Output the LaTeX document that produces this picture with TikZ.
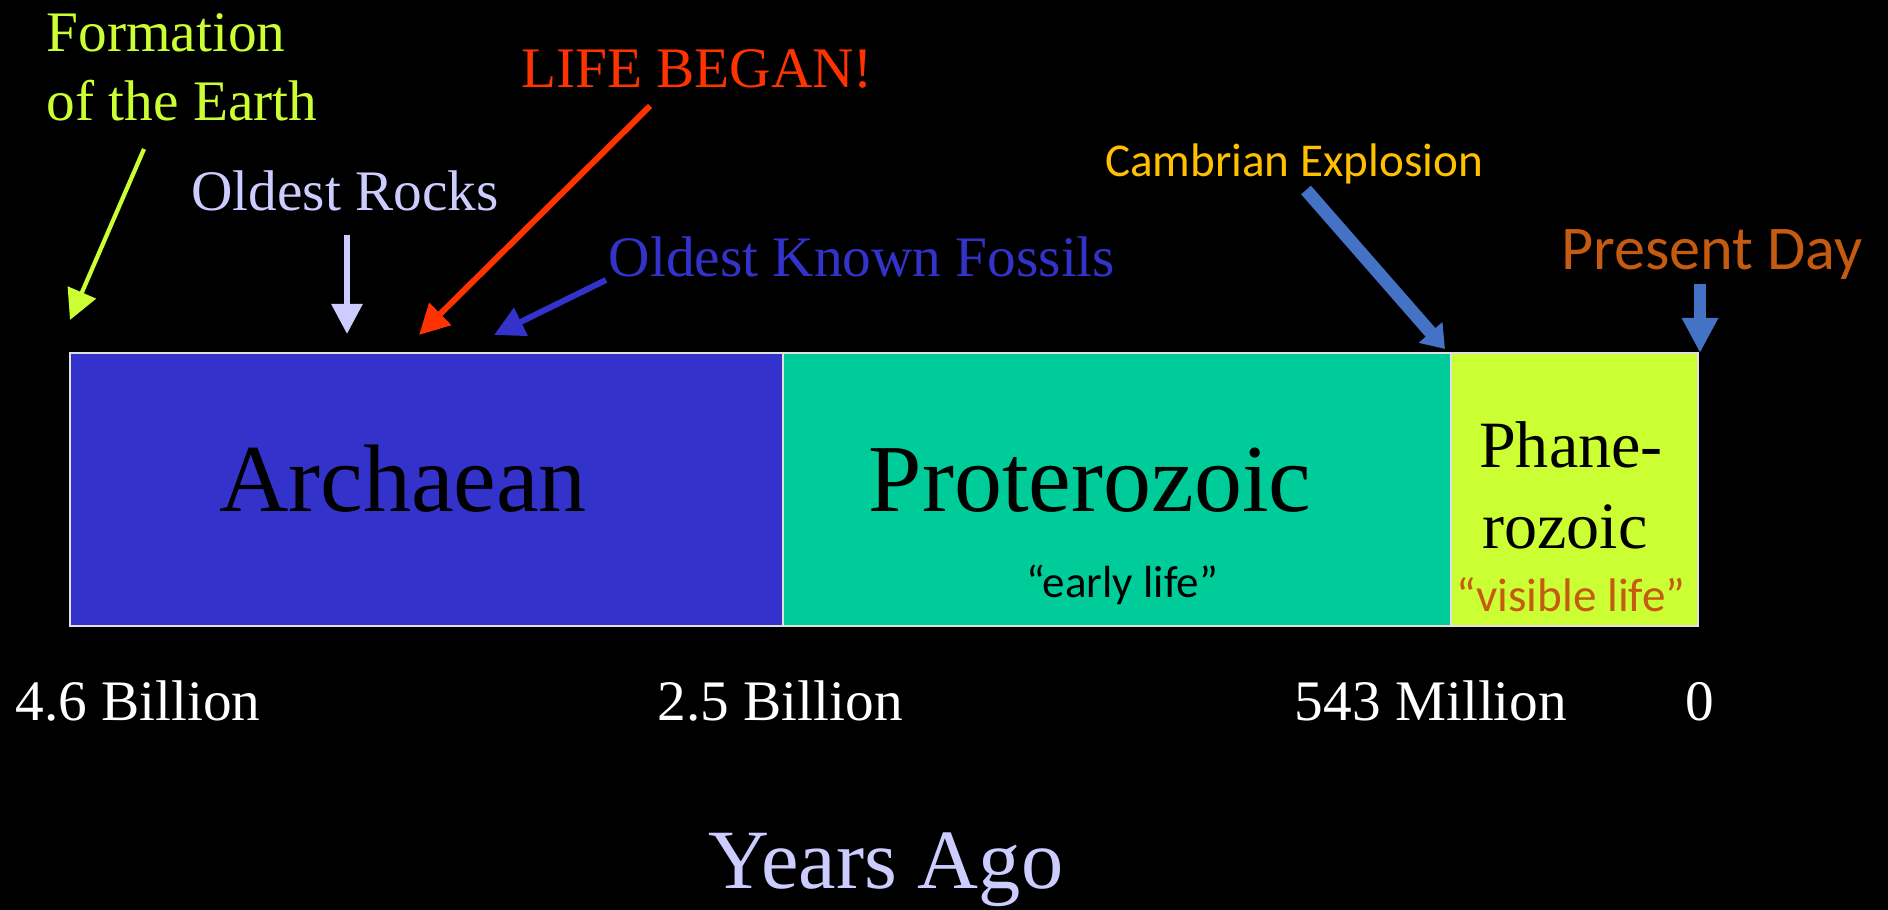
\documentclass[tikz,border=0pt]{standalone}
\usepackage{fontspec}
\setmainfont{Liberation Serif}
\newfontfamily\calibri{Carlito}
\usetikzlibrary{arrows.meta,positioning,calc}

\definecolor{archblue}{HTML}{3333CC}
\definecolor{protgreen}{HTML}{00CC99}
\definecolor{phanyellow}{HTML}{CCFF33}
\definecolor{lifered}{HTML}{FF3300}
\definecolor{rocklilac}{HTML}{CCCCFF}
\definecolor{cambgold}{HTML}{FFC000}
\definecolor{pptblue}{HTML}{4472C4}
\definecolor{pptorange}{HTML}{C55A11}

\begin{document}
\begin{tikzpicture}[x=0.01cm,y=-0.01cm]
\tikzset{erabox/.style={draw=white!88!black, line width=0.6pt, inner sep=0pt, minimum height=2.73cm}}
\tikzset{tag/.style={inner sep=0pt, anchor=base}}
\tikzset{serifbig/.style={font=\fontsize{27.3}{30}\selectfont}}
\tikzset{serifmid/.style={font=\fontsize{16.3}{19}\selectfont}}
\tikzset{thinarrow/.style={line width=1.7pt, -{Triangle[length=0.3cm,width=0.3cm]}}}

\fill[black] (0,0) rectangle (1888,910);

% eras
\node[erabox, fill=archblue, minimum width=7.13cm] (arch) at (426.5,489.5) {};
\node[erabox, fill=protgreen, minimum width=6.68cm] (prot) at (1117,489.5) {};
\node[erabox, fill=phanyellow, minimum width=2.47cm] (phan) at (1574.5,489.5) {};

\node[tag, serifbig] (archtext) at (403,512) {Archaean};
\node[tag, serifbig] (prottext) at (1090,512) {Proterozoic};
\node[tag, font=\calibri\fontsize{12.8}{15}\selectfont] (early) at (1122,598) {“early life”};
\node[tag, font=\fontsize{18.8}{22}\selectfont] (phane) at (1571,468) {Phane-};
\node[tag, font=\fontsize{18.8}{22}\selectfont] (rozoic) at (1565,549) {rozoic};
\node[tag, text=pptorange, font=\calibri\fontsize{13.4}{16}\selectfont] (visible) at (1571,612) {“visible life”};

% events
\node[tag, serifmid, text=phanyellow, anchor=base west] (formation) at (46,52) {Formation};
\node[tag, serifmid, text=phanyellow, anchor=base west] (earth) at (46,121) {of the Earth};
\node[tag, serifmid, text=lifered] (life) at (697,88) {LIFE BEGAN!};
\node[tag, serifmid, text=rocklilac] (rocks) at (345,211) {Oldest Rocks};
\node[tag, serifmid, text=archblue] (fossils) at (862,277) {Oldest Known Fossils};
\node[tag, text=cambgold, font=\calibri\fontsize{13.4}{16}\selectfont] (cambrian) at (1294,177) {Cambrian Explosion};
\node[tag, text=pptorange, font=\calibri\fontsize{17.7}{21}\selectfont] (present) at (1712,270) {Present Day};

\coordinate (formstart) at (144,149);
\coordinate (formtip) at (70,320);
\coordinate (rockstart) at (347,235);
\coordinate (rocktip) at (347,334);
\coordinate (lifestart) at (650,106);
\coordinate (lifetip) at (419,335);
\coordinate (fosstart) at (606,280);
\coordinate (fostip) at (494,335);
\coordinate (cambstart) at (1306,190);
\coordinate (cambtip) at (1445,349);
\coordinate (presstart) at (1700,284);
\coordinate (prestip) at (1700,353);

\draw[thinarrow, phanyellow, line width=1.2pt] (formstart) -- (formtip);
\draw[thinarrow, rocklilac] (rockstart) -- (rocktip);
\draw[thinarrow, lifered] (lifestart) -- (lifetip);
\draw[thinarrow, archblue] (fosstart) -- (fostip);
\draw[pptblue, line width=3.7pt, -{Triangle[length=0.22cm,width=0.3cm]}] (cambstart) -- (cambtip);
\draw[pptblue, line width=3.4pt, -{Triangle[length=0.35cm,width=0.34cm]}] (presstart) -- (prestip);

% time axis
\node[tag, serifmid, text=white] (t46) at (138,720) {4.6 Billion};
\node[tag, serifmid, text=white] (t25) at (780,720) {2.5 Billion};
\node[tag, serifmid, text=white] (t543) at (1431,720) {543 Million};
\node[tag, serifmid, text=white] (t0) at (1700,720) {0};
\node[tag, text=rocklilac, font=\fontsize{24}{28}\selectfont] (ago) at (886,888) {Years Ago};
\end{tikzpicture}
\end{document}
